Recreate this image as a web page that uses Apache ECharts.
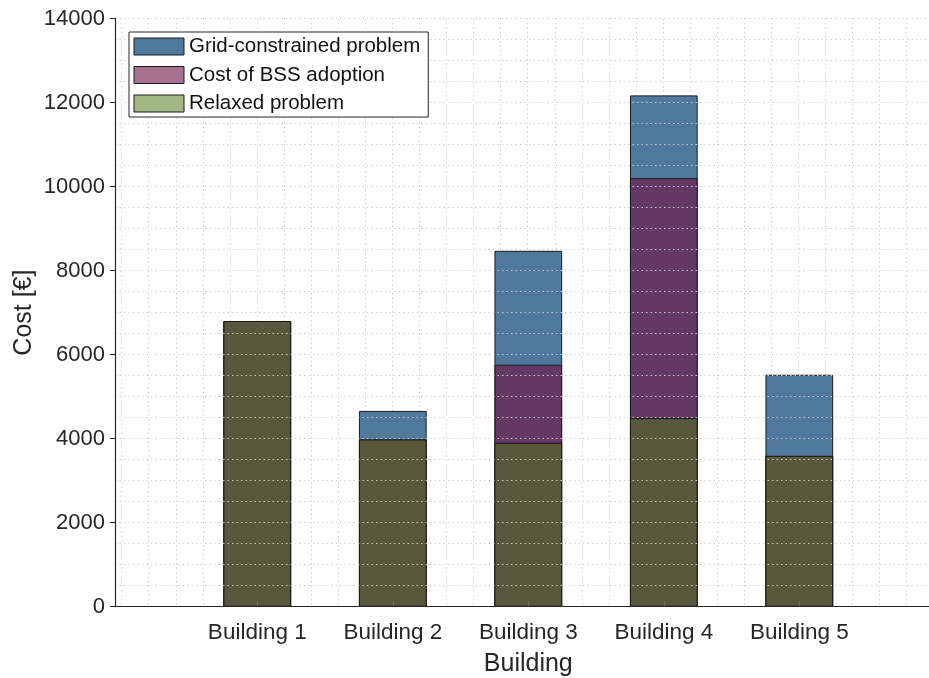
<!DOCTYPE html>
<html>
<head>
<meta charset="utf-8">
<title>Cost per building</title>
<script src="https://cdn.jsdelivr.net/npm/echarts@6/dist/echarts.min.js"></script>
<style>
  html, body { margin: 0; padding: 0; background: #ffffff; }
  #chart { width: 929px; height: 678px; }
</style>
</head>
<body>
<div id="chart"></div>
<script>
// Buildings and their positions on the x axis
const buildings = ['Building 1', 'Building 2', 'Building 3', 'Building 4', 'Building 5'];
const positions = [1, 2, 3, 4, 5];

// Total cost of each scenario per building (€); bars overlap, tallest behind
const gridConstrained = [6800, 4660, 8470, 12170, 5520];
const bssAdoption = [6800, 3980, 5760, 10200, 3590];
const relaxedProblem = [6800, 3980, 3900, 4490, 3590];

// Axis ranges
const yMin = 0, yMax = 14000, yStep = 2000;
const xMin = -0.05, xMax = 6.05;

const FONT = '"Liberation Sans", Arial, Helvetica, sans-serif';
const AXIS_COLOR = '#262626';
const GRID_LINE = { color: '#cfcfcf', width: 1, type: [1.5, 3] };

function barSeries(name, values, color) {
  return {
    name: name,
    type: 'bar',
    xAxisIndex: 0,
    yAxisIndex: 0,
    data: positions.map((p, i) => [p, values[i]]),
    barWidth: 67.7,
    barGap: '-100%',
    itemStyle: { color: color, borderColor: '#1a1a1a', borderWidth: 1 },
    emphasis: { disabled: true },
    z: 2
  };
}

const chart = echarts.init(document.getElementById('chart'), null, { renderer: 'canvas' });

chart.setOption({
  animation: false,
  backgroundColor: '#ffffff',
  grid: [
    { left: 115, right: -12.6, top: 18.5, bottom: 71.3, outerBoundsMode: 'none', containLabel: false },
    // grid used only for the vertical dotted lines
    { left: 121.65, right: -4.75, top: 18.5, bottom: 71.3, outerBoundsMode: 'none', containLabel: false }
  ],
  legend: {
    orient: 'vertical',
    left: 129,
    top: 32,
    padding: [4, 8, 3, 4.5],
    itemWidth: 50,
    itemHeight: 17,
    itemGap: 7.5,
    icon: 'rect',
    selectedMode: false,
    backgroundColor: '#ffffff',
    borderColor: AXIS_COLOR,
    borderWidth: 1,
    borderRadius: 0,
    textStyle: { fontFamily: FONT, fontSize: 20.5, color: '#111111' },
    data: [
      { name: 'Grid-constrained problem', itemStyle: { color: '#4f7aa0', borderColor: '#1a1a1a', borderWidth: 1 } },
      { name: 'Cost of BSS adoption', itemStyle: { color: '#a8718f', borderColor: '#1a1a1a', borderWidth: 1 } },
      { name: 'Relaxed problem', itemStyle: { color: '#a2b884', borderColor: '#1a1a1a', borderWidth: 1 } }
    ]
  },
  xAxis: [
    {
      type: 'value',
      gridIndex: 0,
      min: xMin,
      max: xMax,
      z: 3,
      name: 'Building',
      nameLocation: 'middle',
      nameGap: 45,
      nameMoveOverlap: false,
      nameTextStyle: { fontFamily: FONT, fontSize: 25, color: AXIS_COLOR },
      axisLine: { show: true, onZero: false, lineStyle: { color: AXIS_COLOR, width: 1.2 } },
      axisTick: {
        show: true, inside: true, length: 6,
        customValues: positions,
        lineStyle: { color: 'rgba(120,120,120,0.6)', width: 1 }
      },
      axisLabel: {
        show: true,
        customValues: positions,
        margin: 15,
        fontFamily: FONT,
        fontSize: 22.5,
        color: AXIS_COLOR,
        formatter: v => buildings[Math.round(v) - 1] || ''
      },
      splitLine: { show: false },
      minorTick: { show: false },
      minorSplitLine: { show: false }
    },
    {
      type: 'value',
      gridIndex: 1,
      min: 0,
      max: 6,
      interval: 1,
      axisLine: { show: false },
      axisTick: { show: false },
      axisLabel: { show: false },
      splitLine: { show: true, lineStyle: GRID_LINE },
      minorTick: { show: false, splitNumber: 5 },
      minorSplitLine: { show: true, lineStyle: GRID_LINE }
    }
  ],
  yAxis: [
    {
      type: 'value',
      gridIndex: 0,
      min: yMin,
      max: yMax,
      interval: yStep,
      z: 3,
      name: 'Cost [€]',
      nameLocation: 'middle',
      nameGap: 78,
      nameMoveOverlap: false,
      nameRotate: 90,
      nameTextStyle: { fontFamily: FONT, fontSize: 25, color: AXIS_COLOR },
      axisLine: { show: true, onZero: false, lineStyle: { color: AXIS_COLOR, width: 1.2 } },
      axisTick: { show: true, inside: false, length: 5, lineStyle: { color: AXIS_COLOR, width: 1 } },
      axisLabel: {
        show: true, margin: 10, fontFamily: FONT, fontSize: 22, color: AXIS_COLOR,
        formatter: v => String(v)
      },
      splitLine: { show: true, lineStyle: GRID_LINE },
      minorTick: { show: false, splitNumber: 4 },
      minorSplitLine: { show: true, lineStyle: GRID_LINE }
    },
    {
      type: 'value',
      gridIndex: 1,
      min: 0,
      max: 1,
      show: false
    }
  ],
  series: [
    barSeries('Grid-constrained problem', gridConstrained, '#507a9d'),
    barSeries('Cost of BSS adoption', bssAdoption, '#663866'),
    barSeries('Relaxed problem', relaxedProblem, '#57583c')
  ]
});
</script>
</body>
</html>
